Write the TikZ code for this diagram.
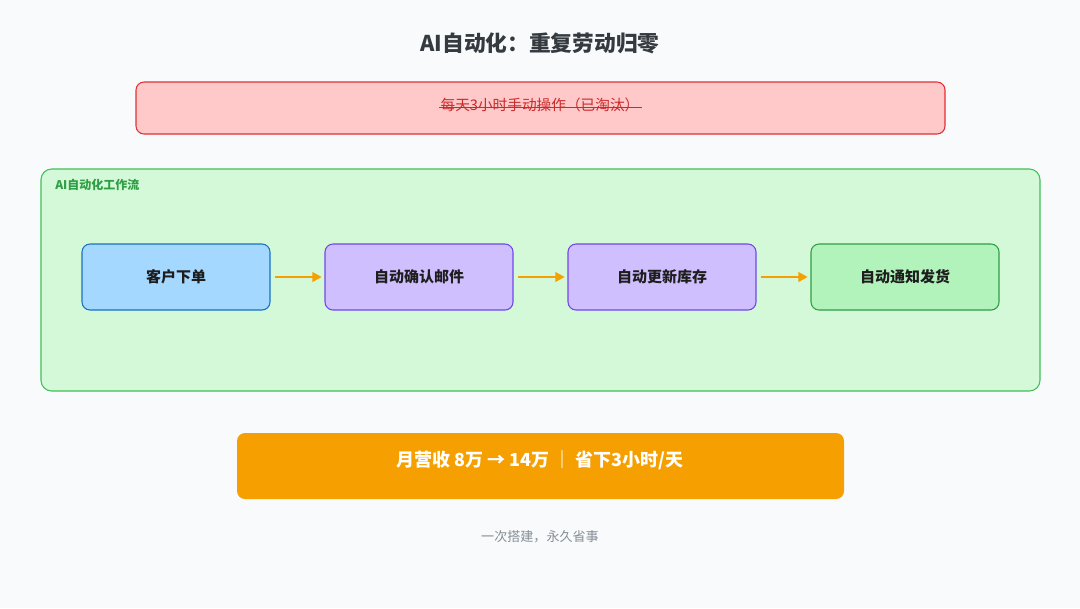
\documentclass[tikz,border=0pt]{standalone}
\usepackage{fontspec}
\setmainfont{Noto Sans CJK SC}
\usetikzlibrary{arrows.meta}
\definecolor{bg}{HTML}{F8FAFC}
\definecolor{titlec}{HTML}{343A40}
\definecolor{redfill}{HTML}{FFC9C9}
\definecolor{redline}{HTML}{E03131}
\definecolor{redtext}{HTML}{C92A2A}
\definecolor{grfill}{HTML}{D3F9D8}
\definecolor{grline}{HTML}{40C057}
\definecolor{grtext}{HTML}{2F9E44}
\definecolor{bluefill}{HTML}{A5D8FF}
\definecolor{blueline}{HTML}{1971C2}
\definecolor{purpfill}{HTML}{D0BFFF}
\definecolor{purpline}{HTML}{7048E8}
\definecolor{stepgfill}{HTML}{B2F2BB}
\definecolor{stepgline}{HTML}{2F9E44}
\definecolor{orange}{HTML}{F59F00}
\definecolor{boxtext}{HTML}{1E1E1E}
\definecolor{footc}{HTML}{868E96}
\tikzset{
  stepbox/.style={draw, rounded corners=6pt, line width=0.8pt, minimum width=141pt, minimum height=49.5pt, inner sep=0pt, text=boxtext, font=\fontsize{11.25pt}{13pt}\selectfont\bfseries},
  flow/.style={draw=orange, line width=2pt, -{Triangle[length=7pt,width=7pt]}},
}
\begin{document}
\begin{tikzpicture}[x=0.75pt,y=-0.75pt]
\useasboundingbox (0,0) rectangle (1080,608);
\fill[bg] (0,0) rectangle (1080,608);
% title
\node[font=\fontsize{16.3pt}{19pt}\selectfont\bfseries, text=titlec] (title) at (540,43) {AI自动化：重复劳动归零};
% red box
\draw[fill=redfill, draw=redline, line width=0.8pt, rounded corners=6pt] (136,82) rectangle (945,134);
\node[font=\fontsize{11pt}{13pt}\selectfont, text=redtext, inner sep=0pt] (old) at (540,105) {每天3小时手动操作（已淘汰）};
\draw[redtext, line width=1pt] ([xshift=-1pt,yshift=-1.8pt]old.west) -- ([xshift=2pt,yshift=-1.8pt]old.east);
% green container
\draw[fill=grfill, draw=grline, line width=0.8pt, rounded corners=8pt] (41,169) rectangle (1040,391);
\node[anchor=west, font=\fontsize{9pt}{11pt}\selectfont\bfseries, text=grtext, inner sep=0pt] (wf) at (55,185) {AI自动化工作流};
% steps
\node[stepbox, fill=bluefill, draw=blueline] (s1) at (176,277) {客户下单};
\node[stepbox, fill=purpfill, draw=purpline] (s2) at (419,277) {自动确认邮件};
\node[stepbox, fill=purpfill, draw=purpline] (s3) at (662,277) {自动更新库存};
\node[stepbox, fill=stepgfill, draw=stepgline] (s4) at (905,277) {自动通知发货};
\draw[flow] ([xshift=3pt]s1.east) -- ([xshift=-2pt]s2.west);
\draw[flow] ([xshift=3pt]s2.east) -- ([xshift=-2pt]s3.west);
\draw[flow] ([xshift=3pt]s3.east) -- ([xshift=-2pt]s4.west);
% result
\fill[orange, rounded corners=6pt] (237,433) rectangle (844,499);
\node[font=\fontsize{13.5pt}{16pt}\selectfont\bfseries, text=white] (res) at (540,460) {月营收 8万 → 14万 ｜ 省下3小时/天};
% footer
\node[font=\fontsize{9.8pt}{12pt}\selectfont, text=footc] (foot) at (540,537) {一次搭建，永久省事};
\end{tikzpicture}
\end{document}
